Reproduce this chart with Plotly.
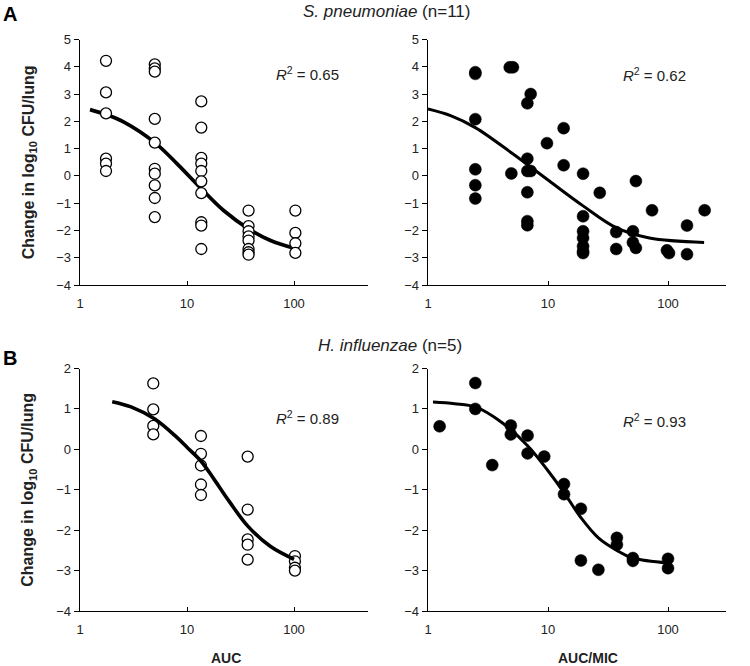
import plotly.graph_objects as go

W, H = 750, 666
FONT = "Liberation Sans, Arial, sans-serif"

# ---------------- Data ----------------
# A: S. pneumoniae, AUC (open circles)
spn_auc_x = [1.75, 1.75, 1.75, 1.75, 1.75, 1.75,
             5, 5, 5, 5, 5, 5, 5, 5, 5, 5,
             13.6, 13.6, 13.6, 13.6, 13.6, 13.6, 13.6, 13.6, 13.6, 13.6,
             37.6, 37.6, 37.6, 37.6, 37.6, 37.6, 37.6, 37.6,
             103, 103, 103, 103]
spn_auc_y = [4.22, 3.06, 2.29, 0.63, 0.45, 0.18,
             4.09, 3.94, 3.82, 2.09, 1.22, 0.26, 0.08, -0.35, -0.81, -1.51,
             2.73, 1.77, 0.66, 0.45, 0.18, -0.2, -0.63, -1.7, -1.82, -2.68,
             -1.27, -1.84, -2.03, -2.22, -2.37, -2.68, -2.8, -2.89,
             -1.27, -2.09, -2.47, -2.82]
spn_auc_fit_x = [1.24, 1.75, 2.55, 5.0, 8.05, 13.6, 22.0, 37.6, 60.4, 100]
spn_auc_fit_y = [2.43, 2.25, 1.98, 1.22, 0.45, -0.47, -1.27, -1.94, -2.37, -2.65]

# A: S. pneumoniae, AUC/MIC (filled circles)
spn_mic_x = [2.48, 2.48, 2.48, 2.48, 2.48, 2.48,
             4.8, 5.1, 4.95,
             6.73, 6.73, 6.73, 6.73, 6.73, 6.73,
             7.17, 7.17,
             9.8,
             13.5, 13.5,
             19.6, 19.6, 19.6, 19.6, 19.6, 19.6, 19.6,
             27,
             37, 37,
             51, 51,
             54, 54,
             73.6,
             98, 102,
             144, 144,
             202]
spn_mic_y = [3.8, 3.74, 2.08, 0.24, -0.34, -0.83,
             3.98, 3.98, 0.09,
             2.66, 0.63, 0.18, -0.6, -1.66, -1.81,
             3.0, 0.18,
             1.2,
             1.75, 0.39,
             0.08, -1.48, -2.03, -2.28, -2.58, -2.77, -2.83,
             -0.62,
             -2.06, -2.68,
             -2.03, -2.44,
             -0.19, -2.64,
             -1.26,
             -2.73, -2.83,
             -1.82, -2.87,
             -1.26]
spn_mic_fit_x = [1.0, 1.56, 2.48, 4.95, 6.73, 10, 19.6, 37, 70, 200]
spn_mic_fit_y = [2.45, 2.2, 1.77, 0.85, 0.42, -0.15, -1.1, -1.9, -2.28, -2.44]

# B: H. influenzae, AUC (open circles)
hin_auc_x = [4.84, 4.84, 4.84, 4.84,
             13.5, 13.5, 13.5, 13.5, 13.5,
             36.9, 36.9, 36.9, 36.9, 36.9,
             102, 102, 102, 102]
hin_auc_y = [1.63, 0.99, 0.58, 0.37,
             0.33, -0.11, -0.4, -0.87, -1.13,
             -0.18, -1.49, -2.23, -2.36, -2.73,
             -2.64, -2.77, -2.93, -3.0]
hin_auc_fit_x = [2, 3, 5, 8, 10, 13.6, 18, 25, 37, 60, 100]
hin_auc_fit_y = [1.18, 1.05, 0.75, 0.3, 0.05, -0.3, -0.75, -1.3, -1.9, -2.4, -2.72]

# B: H. influenzae, AUC/MIC (filled circles)
hin_mic_x = [1.25, 2.48, 2.48, 3.43, 4.9, 4.9, 6.76, 6.76, 9.3,
             13.6, 13.6, 18.8, 18.8, 26.3, 37.5, 37.5, 51, 51, 100, 100]
hin_mic_y = [0.57, 1.64, 1.0, -0.39, 0.59, 0.37, 0.34, -0.1, -0.18,
             -0.86, -1.11, -1.47, -2.75, -2.98, -2.19, -2.36, -2.69, -2.76, -2.71, -2.94]
hin_mic_fit_x = [1.1, 1.67, 2.48, 4.1, 6.76, 10, 13.6, 18.8, 26.3, 37.5, 51, 100]
hin_mic_fit_y = [1.17, 1.13, 1.05, 0.67, 0.09, -0.53, -1.07, -1.69, -2.19, -2.5, -2.69, -2.81]

r2_values = ["0.65", "0.62", "0.89", "0.93"]
x_titles = ["AUC", "AUC/MIC"]
row_titles = ["<i>S. pneumoniae</i> (n=11)", "<i>H. influenzae</i> (n=5)"]
panel_letters = ["A", "B"]
y_title = "Change in log<sub>10</sub> CFU/lung"


# ---------------- Layout geometry (page pixels) ----------------
def px(x):
    return x / W


def py(y):
    return 1 - y / H


left_x = (80, 368)
right_x = (428, 726)
top_y = (39.5, 285)
bot_y = (368.5, 611)

fig = go.Figure()

panels = [
    dict(xa="x", ya="y", xd=left_x, yd=top_y, xr=[0, (368 - 80) / 107.0], yr=[-4, 5],
         px_=spn_auc_x, py_=spn_auc_y, fx=spn_auc_fit_x, fy=spn_auc_fit_y, filled=False,
         line_on_top=False, lw=3.7),
    dict(xa="x2", ya="y2", xd=right_x, yd=top_y, xr=[0, (726 - 428) / 120.0], yr=[-4, 5],
         px_=spn_mic_x, py_=spn_mic_y, fx=spn_mic_fit_x, fy=spn_mic_fit_y, filled=True,
         line_on_top=False, lw=3.0),
    dict(xa="x3", ya="y3", xd=left_x, yd=bot_y, xr=[0, (368 - 80) / 107.0], yr=[-4, 2],
         px_=hin_auc_x, py_=hin_auc_y, fx=hin_auc_fit_x, fy=hin_auc_fit_y, filled=False,
         line_on_top=True, lw=3.6),
    dict(xa="x4", ya="y4", xd=right_x, yd=bot_y, xr=[0, (726 - 428) / 120.0], yr=[-4, 2],
         px_=hin_mic_x, py_=hin_mic_y, fx=hin_mic_fit_x, fy=hin_mic_fit_y, filled=True,
         line_on_top=True, lw=3.0),
]

layout_axes = {}
for i, p in enumerate(panels):
    if p["filled"]:
        marker = dict(size=12, color="black", line=dict(color="black", width=0.5))
    else:
        marker = dict(size=11, color="white", line=dict(color="black", width=1.3))
    pts = go.Scatter(x=p["px_"], y=p["py_"], mode="markers", marker=marker,
                     xaxis=p["xa"], yaxis=p["ya"], showlegend=False, cliponaxis=False)
    fit = go.Scatter(x=p["fx"], y=p["fy"], mode="lines",
                     line=dict(color="black", width=p["lw"], shape="spline"),
                     xaxis=p["xa"], yaxis=p["ya"], showlegend=False, cliponaxis=False)
    if p["line_on_top"]:
        fig.add_trace(pts)
        fig.add_trace(fit)
    else:
        fig.add_trace(fit)
        fig.add_trace(pts)

    xkey = "xaxis" if i == 0 else f"xaxis{i+1}"
    ykey = "yaxis" if i == 0 else f"yaxis{i+1}"
    layout_axes[xkey] = dict(
        type="log", range=p["xr"], domain=[px(p["xd"][0]), px(p["xd"][1])],
        anchor=p["ya"], tickvals=[1, 10, 100], ticktext=["1", "10", "100"],
        showline=True, linecolor="black", linewidth=1.3, ticks="inside", ticklen=4,
        tickcolor="black", tickwidth=1, showgrid=False, zeroline=False,
        tickfont=dict(family=FONT, size=13, color="#222"), ticklabelstandoff=6,
    )
    layout_axes[ykey] = dict(
        range=p["yr"], domain=[py(p["yd"][1]), py(p["yd"][0])], anchor=p["xa"],
        dtick=1, showline=True, linecolor="black", linewidth=1.3, ticks="outside", ticklen=5,
        tickcolor="black", tickwidth=1, showgrid=False, zeroline=False,
        tickfont=dict(family=FONT, size=13, color="#222"),
    )

fig.update_layout(**layout_axes)

annotations = []
# R² labels
r2_pos = [(307, 73), (654, 75), (307, 418), (654, 420)]
for (x, y), v in zip(r2_pos, r2_values):
    annotations.append(dict(x=px(x), y=py(y), xref="paper", yref="paper", showarrow=False,
                            text=f"<i>R</i><sup>2</sup> = {v}",
                            font=dict(family=FONT, size=15, color="#222"), xanchor="center", yanchor="middle"))
# row titles
for (x, y), t in zip([(386, 11), (390, 346)], row_titles):
    annotations.append(dict(x=px(x), y=py(y), xref="paper", yref="paper", showarrow=False, text=t,
                            font=dict(family=FONT, size=17, color="#222"), xanchor="center", yanchor="middle"))
# panel letters
for (y, t) in zip([14, 358], panel_letters):
    annotations.append(dict(x=px(1), y=py(y), xref="paper", yref="paper", showarrow=False, text=f"<b>{t}</b>",
                            font=dict(family=FONT, size=20, color="black"), xanchor="left", yanchor="middle"))
# y titles
for yc in [(top_y[0] + top_y[1]) / 2, (bot_y[0] + bot_y[1]) / 2]:
    annotations.append(dict(x=px(29), y=py(yc), xref="paper", yref="paper", showarrow=False,
                            text=f"<b>{y_title}</b>", textangle=-90,
                            font=dict(family=FONT, size=16, color="#222"), xanchor="center", yanchor="middle"))
# x titles
for xc, t in zip([226, 588], x_titles):
    annotations.append(dict(x=px(xc), y=py(658), xref="paper", yref="paper", showarrow=False,
                            text=f"<b>{t}</b>", font=dict(family=FONT, size=14, color="#222"),
                            xanchor="center", yanchor="middle"))

fig.update_layout(
    width=W, height=H, margin=dict(l=0, r=0, t=0, b=0, autoexpand=False),
    paper_bgcolor="white", plot_bgcolor="white", annotations=annotations,
    font=dict(family=FONT), hovermode=False,
)

fig.write_html("out.html", config={"displayModeBar": False, "staticPlot": True},
               post_script="document.body.style.margin='0px';")
